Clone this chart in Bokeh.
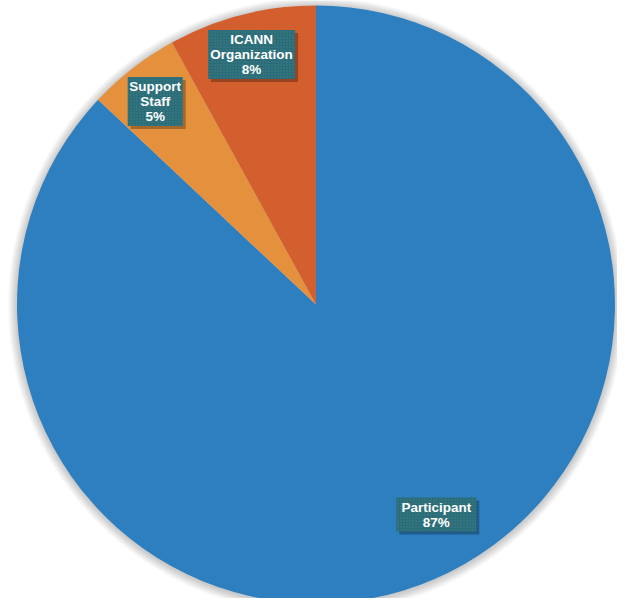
import numpy as np
from bokeh.plotting import figure
from bokeh.models import Range1d, ColumnDataSource
from bokeh.core.properties import value
from bokeh.embed import file_html
from bokeh.resources import INLINE

categories = ["Participant", "Support Staff", "ICANN Organization"]
shares = [87, 5, 8]
label_texts = ["Participant\n87%", "Support\nStaff\n5%", "ICANN\nOrganization\n8%"]
colors = ["#2D7FC0", "#E4903D", "#D35E2E"]

W, H = 617, 598
cx, cy, R = 315.5, H - 304, 299

p = figure(width=W, height=H, output_backend="svg", toolbar_location=None,
           x_range=Range1d(0, W), y_range=Range1d(0, H), min_border=0)
p.axis.visible = False
p.grid.visible = False
p.outline_line_color = None
p.background_fill_color = "white"
p.border_fill_color = "white"

fr = np.array(shares, dtype=float) / sum(shares)
cum = np.concatenate([[0], np.cumsum(fr)])
start = np.pi / 2 - cum[:-1] * 2 * np.pi
end = np.pi / 2 - cum[1:] * 2 * np.pi
mid = (start + end) / 2

# soft shadow around the pie
for i in range(9):
    p.circle(x=[cx], y=[cy - 1], radius=R + 1 + i, fill_color="#000000",
             fill_alpha=0.022, line_color=None)

src = ColumnDataSource(dict(start=start, end=end, color=colors, cat=categories))
p.wedge(x=cx, y=cy, radius=R, start_angle="start", end_angle="end",
        direction="clock", fill_color="color", line_color=None, source=src)

lr = 255
dx = np.array([19, -4.5, -1])
dy = np.array([24, 1.5, 3])
lx = cx + lr * np.cos(mid) + dx
ly = cy + lr * np.sin(mid) + dy
bw = [80, 55, 87]
bh = [34, 49, 49]
lsrc = ColumnDataSource(dict(x=lx, y=ly, sx=lx + 3, sy=ly - 3, w=bw, h=bh, t=label_texts))
p.rect(x="sx", y="sy", width="w", height="h", width_units="screen", height_units="screen",
       fill_color="#000000", fill_alpha=0.28, line_color=None, source=lsrc)
p.rect(x="x", y="y", width="w", height="h", width_units="screen", height_units="screen",
       fill_color="#2A6D79", line_color=None, hatch_pattern="dot", hatch_color="#5A949C",
       hatch_scale=3, hatch_alpha=0.45, source=lsrc)
p.text(x="x", y="y", text="t", text_align="center", text_baseline="middle",
       text_color="white", text_font=value("Liberation Sans"), text_font_style="bold",
       text_font_size="13.5px", text_line_height=1.0, source=lsrc)

open("out.html", "w").write(file_html(p, INLINE))
